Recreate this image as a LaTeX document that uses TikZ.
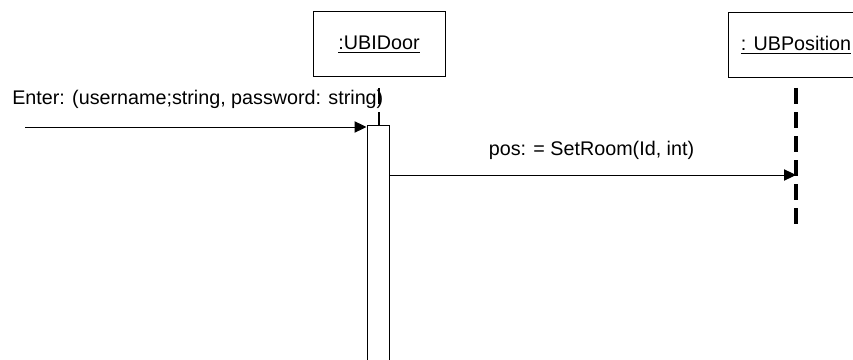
\documentclass[tikz,border=0pt]{standalone}
\usepackage{fontspec}
\setmainfont{Liberation Sans}
\usetikzlibrary{arrows.meta}
\begin{document}
\begin{tikzpicture}[x=0.75pt,y=-0.75pt,
  every node/.style={font=\fontsize{14.8}{17}\selectfont, inner sep=0pt},
  objbox/.style={draw, line width=0.75pt, fill=white, minimum height=48.75pt},
  lifeline/.style={line width=#1, dash pattern=on 12pt off 6pt},
  actbox/.style={draw, line width=0.75pt, fill=white, minimum width=16.5pt, minimum height=180pt},
  msg/.style={line width=0.75pt, -{Triangle[length=9pt,width=8.5pt]}},
  lbl/.style={anchor=base}
]
\useasboundingbox (0,0) rectangle (853,360);
\clip (0,0) rectangle (853,360);

% objects
\node[objbox, minimum width=99pt] (door) at (379,44.5) {\underline{:UBIDoor}};
\node[objbox, minimum width=102pt] (posobj) at (796,45) {\underline{: UBPosition}};

% lifelines
\coordinate (doorL) at (379,88);
\coordinate (posL) at (796,88);
\coordinate (posEnd) at (796,224);
\draw[lifeline=1.6pt] (doorL) -- (379,130);
\draw[lifeline=2.5pt] (posL) -- (posEnd);

% activation bar
\node[actbox, anchor=north] (act) at (378,125) {};

% incoming message
\coordinate (in) at (25,127);
\draw[msg] (in) -- (in -| act.west);
\node[lbl, anchor=base west] (enterlbl) at (12,104) {Enter: (username;string, password: string)};

% call to UBPosition
\coordinate (m2) at (act.east |- 0,175);
\draw[msg] (m2) -- (m2 -| posL);
\node[lbl] (setlbl) at (591.5,155) {pos: = SetRoom(Id, int)};
\end{tikzpicture}
\end{document}
